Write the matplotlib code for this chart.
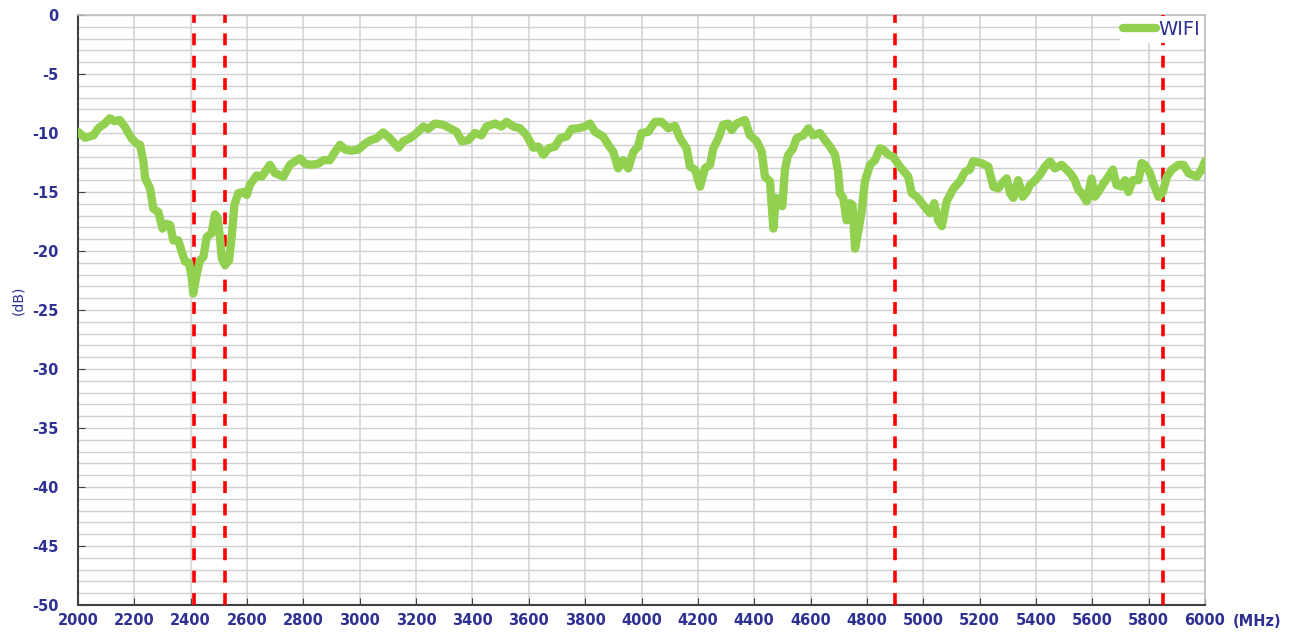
import matplotlib
matplotlib.use("Agg")
import matplotlib.pyplot as plt
import numpy as np

plt.rcParams["axes.unicode_minus"] = False

# WIFI response (MHz, dB)
freq = [2000, 2025, 2055, 2072, 2095, 2113, 2130, 2148, 2167, 2190, 2208, 2220,
        2232, 2238, 2256, 2267, 2285, 2300, 2315, 2327, 2338, 2356, 2368, 2380,
        2394, 2404, 2409, 2421, 2433, 2445, 2457, 2474, 2486, 2496, 2504, 2510,
        2522, 2536, 2545, 2555, 2569, 2587, 2599, 2610, 2634, 2652, 2664, 2681,
        2699, 2729, 2752, 2770, 2788, 2806, 2829, 2853, 2871, 2894, 2912, 2930,
        2948, 2971, 2995, 3019, 3040, 3060, 3083, 3107, 3137, 3155, 3178, 3202,
        3226, 3243, 3267, 3296, 3320, 3344, 3362, 3385, 3409, 3432, 3450, 3480,
        3503, 3521, 3545, 3569, 3592, 3616, 3634, 3652, 3670, 3693, 3711, 3734,
        3752, 3776, 3799, 3817, 3835, 3864, 3882, 3900, 3917, 3935, 3953, 3971,
        3988, 4000, 4024, 4048, 4071, 4095, 4119, 4137, 4160, 4172, 4190, 4208,
        4225, 4243, 4255, 4273, 4290, 4308, 4320, 4338, 4367, 4385, 4409, 4427,
        4438, 4456, 4468, 4477, 4491, 4500, 4509, 4520, 4538, 4550, 4574, 4592,
        4609, 4633, 4651, 4669, 4687, 4698, 4704, 4716, 4728, 4740, 4749, 4758,
        4769, 4781, 4793, 4811, 4829, 4846, 4858, 4876, 4893, 4917, 4947, 4959,
        4977, 5000, 5024, 5039, 5053, 5066, 5083, 5107, 5130, 5148, 5165, 5177,
        5207, 5231, 5249, 5266, 5278, 5296, 5308, 5320, 5337, 5353, 5367, 5379,
        5397, 5414, 5432, 5450, 5467, 5491, 5509, 5526, 5538, 5550, 5562, 5580,
        5597, 5609, 5621, 5639, 5657, 5673, 5686, 5704, 5716, 5728, 5744, 5764,
        5775, 5787, 5805, 5817, 5835, 5850, 5865, 5882, 5906, 5924, 5941, 5971,
        5988, 6000]
wifi_db = [-9.9, -10.4, -10.2, -9.6, -9.2, -8.75, -9.0, -8.9, -9.5, -10.45, -10.9, -11.0,
           -12.4, -13.8, -14.7, -16.4, -16.7, -18.1, -17.7, -17.8, -19.1, -19.1, -20.05, -20.9,
           -21.0, -22.3, -23.6, -22.0, -20.8, -20.5, -18.8, -18.5, -16.9, -17.2, -18.9, -20.6,
           -21.2, -20.8, -18.9, -16.1, -15.1, -15.0, -15.25, -14.4, -13.6, -13.7, -13.3, -12.7,
           -13.4, -13.7, -12.7, -12.4, -12.15, -12.6, -12.7, -12.6, -12.3, -12.3, -11.6, -11.0,
           -11.4, -11.5, -11.4, -10.9, -10.6, -10.45, -9.95, -10.45, -11.25, -10.7, -10.45, -10.0,
           -9.45, -9.65, -9.2, -9.3, -9.6, -9.9, -10.7, -10.6, -10.0, -10.2, -9.45, -9.2,
           -9.45, -9.05, -9.45, -9.6, -10.2, -11.25, -11.15, -11.85, -11.3, -11.15, -10.45, -10.3,
           -9.65, -9.6, -9.45, -9.2, -9.9, -10.3, -11.0, -11.6, -13.0, -12.3, -13.0, -11.6,
           -11.15, -10.0, -9.9, -9.05, -9.05, -9.6, -9.4, -10.45, -11.3, -12.85, -13.1, -14.55,
           -13.0, -12.7, -11.3, -10.45, -9.3, -9.2, -9.75, -9.2, -8.9, -10.2, -10.7, -11.6,
           -13.7, -14.1, -18.1, -15.5, -16.1, -16.2, -13.1, -11.9, -11.3, -10.45, -10.2, -9.6,
           -10.2, -10.0, -10.6, -11.15, -11.85, -13.3, -15.1, -15.5, -17.4, -15.95, -16.1, -19.8,
           -18.4, -16.7, -14.1, -12.7, -12.3, -11.3, -11.4, -11.85, -12.0, -12.85, -13.7, -15.1,
           -15.4, -16.1, -16.8, -15.95, -17.4, -17.9, -15.8, -14.7, -14.1, -13.3, -13.1, -12.4,
           -12.55, -12.85, -14.55, -14.7, -14.3, -13.85, -15.1, -15.5, -14.0, -15.4, -15.0, -14.4,
           -14.0, -13.55, -12.85, -12.4, -13.0, -12.7, -13.1, -13.55, -14.0, -14.8, -15.1, -15.8,
           -13.85, -15.4, -15.0, -14.3, -13.7, -13.1, -14.4, -14.55, -14.0, -15.0, -14.0, -14.0,
           -12.55, -12.7, -13.4, -14.3, -15.4, -15.0, -13.7, -13.1, -12.7, -12.7, -13.4, -13.7,
           -13.1, -12.4]

band_edges = [2410, 2520, 4900, 5850]
x_ticks = list(range(2000, 6001, 200))
y_ticks = list(range(0, -51, -5))

navy = "#2E3192"

fig = plt.figure(figsize=(12.92, 6.32), dpi=100)
ax = fig.add_axes([78 / 1292, 1 - 605 / 632, (1205 - 78) / 1292, (605 - 15) / 632])

ax.set_xlim(2000, 6000)
ax.set_ylim(-50, 0)

# grid
ax.set_xticks(x_ticks)
ax.set_yticks(y_ticks)
ax.set_yticks(range(-50, 1), minor=True)
ax.grid(True, which="major", axis="x", color="#D6D6D6", lw=1.2)
ax.grid(True, which="both", axis="y", color="#D0D0D0", lw=1.0)
ax.set_axisbelow(True)

for x in band_edges:
    ax.axvline(x, color="#FF0000", lw=2.6, ls=(0, (3.3, 2.9)), zorder=3)

ax.plot(freq, wifi_db, color="#92D050", lw=6, solid_joinstyle="round",
        solid_capstyle="round", label="WIFI", zorder=4)

ax.tick_params(axis="both", which="major", direction="in", length=5,
               color="#404040", labelcolor=navy, labelsize=10.5)
ax.tick_params(axis="y", which="minor", length=0)
ax.tick_params(axis="y", pad=14)
ax.tick_params(axis="x", pad=6)
for lab in ax.get_xticklabels() + ax.get_yticklabels():
    lab.set_fontweight("bold")

for s in ["left", "bottom"]:
    ax.spines[s].set_color("#404040")
    ax.spines[s].set_linewidth(1.5)
for s in ["top", "right"]:
    ax.spines[s].set_color("#BFBFBF")
    ax.spines[s].set_linewidth(1.2)

leg = ax.legend(loc="upper right", fontsize=14, frameon=True, fancybox=False,
                framealpha=1, edgecolor="none", facecolor="white",
                handlelength=1.7, handletextpad=0.1, borderaxespad=0.05,
                borderpad=0.2)
for t in leg.get_texts():
    t.set_color(navy)

fig.text(18 / 1292, 1 - 300 / 632, "(dB)", rotation=90, color=navy,
         fontsize=10, ha="center", va="center")
fig.text(1257 / 1292, 1 - 622 / 632, "(MHz)", color=navy, fontsize=10.5,
         fontweight="bold", ha="center", va="center")

fig.savefig("out.png", dpi=100)
